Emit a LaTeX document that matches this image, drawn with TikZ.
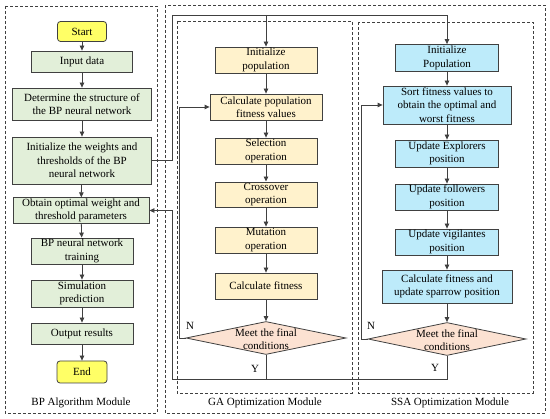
\documentclass[tikz,border=0pt]{standalone}
\usepackage{fontspec}
\setmainfont{Liberation Serif}
\usepackage{tikz}
\usetikzlibrary{positioning, calc, shapes.geometric, arrows.meta}
\definecolor{termYellow}{RGB}{255, 255, 102}
\definecolor{bpGreen}{RGB}{226, 239, 217}
\definecolor{gaOrange}{RGB}{255, 242, 204}
\definecolor{ssaBlue}{RGB}{189, 235, 250}
\definecolor{condPeach}{RGB}{252, 226, 210}
\definecolor{lineGray}{RGB}{64, 64, 64}

\begin{document}
\begin{tikzpicture}[
    x=1pt, y=-1pt,
    font=\fontsize{11}{13.5}\selectfont,
    base/.style={rectangle, draw=lineGray, thick, align=center, inner sep=1pt},
    termbox/.style={base, fill=termYellow, rounded corners=3pt,
                    minimum width=49pt, minimum height=20pt},
    bpbox/.style={base, fill=bpGreen},
    gabox/.style={base, fill=gaOrange, minimum width=102pt, minimum height=26pt},
    ssabox/.style={base, fill=ssaBlue, minimum width=103pt, minimum height=26pt},
    condbox/.style={diamond, draw=lineGray, thick, fill=condPeach, inner sep=0pt,
                    minimum width=160pt, minimum height=33pt},
    modbox/.style={draw=lineGray, dashed, dash pattern=on 3pt off 2pt},
    arrow/.style={-{Triangle[length=5pt, width=4.5pt]}, thick, lineGray},
    link/.style={thick, lineGray},
    yn/.style={font=\fontsize{11}{13}\selectfont},
  ]
    \useasboundingbox (0,0) rectangle (550,419);

    % Module frames
    \draw[modbox] (5,6) rectangle (157,413);
    \draw[modbox] (165,5) rectangle (545,413);
    \draw[modbox] (177,21) rectangle (352,393);
    \draw[modbox] (358,22) rectangle (533,393);
    \node (BPMOD)  at (81,403)  {BP Algorithm Module};
    \node (GAMOD)  at (265,403) {GA Optimization Module};
    \node (SSAMOD) at (450,403) {SSA Optimization Module};

    % Left: BP algorithm
    \node[termbox] (START) at (82,31.5) {Start};
    \node[bpbox, minimum width=101pt, minimum height=21pt] (INPUT) at (82,61.5) {Input data};
    \node[bpbox, minimum width=139pt, minimum height=32pt] (STRUCT) at (82,104)
      {Determine the structure of\\the BP neural network};
    \node[bpbox, minimum width=139pt, minimum height=47pt] (INITWT) at (82,160.5)
      {Initialize the weights and\\thresholds of the BP\\neural network};
    \node[bpbox, minimum width=136pt, minimum height=25pt] (OBTAIN) at (81,210.5)
      {Obtain optimal weight and\\threshold parameters};
    \node[bpbox, minimum width=102pt, minimum height=26pt] (TRAIN) at (82,251)
      {BP neural network\\training};
    \node[bpbox, minimum width=102pt, minimum height=27pt] (SIMU) at (82,293.5)
      {Simulation\\prediction};
    \node[bpbox, minimum width=102pt, minimum height=21pt] (OUTPUT) at (82,333.5) {Output results};
    \node[termbox, minimum width=50pt, minimum height=22pt] (END) at (82,372) {End};
    \foreach \a/\b in {START/INPUT, INPUT/STRUCT, STRUCT/INITWT, INITWT/OBTAIN,
                       OBTAIN/TRAIN, TRAIN/SIMU, SIMU/OUTPUT, OUTPUT/END}
      \draw[arrow] (\a) -- (\b);

    % Middle: GA optimization
    \node[gabox] (GAINIT) at (266,60) {Initialize\\population};
    \node[gabox, minimum width=112pt] (GAFIT) at (266,107)
      {Calculate population\\fitness values};
    \node[gabox] (GASEL) at (266,151) {Selection\\operation};
    \node[gabox, minimum height=25pt] (GACROSS) at (266,194.5) {Crossover\\operation};
    \node[gabox] (GAMUT) at (266,240) {Mutation\\operation};
    \node[gabox] (GACALC) at (266,286) {Calculate fitness};
    \node[condbox, label={[align=center, yshift=-1pt]center:Meet the final\\conditions}]
      (GACOND) at (266,338) {};
    \foreach \a/\b in {GAINIT/GAFIT, GAFIT/GASEL, GASEL/GACROSS, GACROSS/GAMUT,
                       GAMUT/GACALC, GACALC/GACOND}
      \draw[arrow] (\a) -- (\b);

    % Right: SSA optimization
    \node[ssabox, minimum height=27pt] (SSAINIT) at (447,58) {Initialize\\Population};
    \node[ssabox, minimum width=128pt, minimum height=38pt] (SSASORT) at (447,105)
      {Sort fitness values to\\obtain the optimal and\\worst fitness};
    \node[ssabox, minimum height=27pt] (SSAEXP) at (447,153.5) {Update Explorers\\position};
    \node[ssabox] (SSAFOL) at (447,197) {Update followers\\position};
    \node[ssabox] (SSAVIG) at (447,242) {Update vigilantes\\position};
    \node[ssabox, minimum width=130pt, minimum height=33pt] (SSACALC) at (447,286.5)
      {Calculate fitness and\\update sparrow position};
    \node[condbox, minimum width=158pt, label={[align=center, yshift=-1pt]center:Meet the final\\conditions}]
      (SSACOND) at (447,339) {};
    \foreach \a/\b in {SSAINIT/SSASORT, SSASORT/SSAEXP, SSAEXP/SSAFOL, SSAFOL/SSAVIG,
                       SSAVIG/SSACALC, SSACALC/SSACOND}
      \draw[arrow] (\a) -- (\b);

    % Links between modules
    \coordinate (TOPL) at (172,15);
    \coordinate (BOTL) at (172,379);
    \draw[arrow] (INITWT.east) -| (TOPL) -| (SSAINIT.north);
    \draw[arrow] (TOPL -| GAINIT.north) -- (GAINIT.north);
    \draw[arrow] (SSACOND.south) |- (BOTL) |- (OBTAIN.east);
    \draw[link] (GACOND.south) -- (GACOND.south |- BOTL);

    % N loops
    \draw[arrow] (GACOND.west) -- ++(-6,0) |- (GAFIT.west);
    \draw[arrow] (SSACOND.west) -- ++(-6,0) |- (SSASORT.west);
    \node[yn] (GAN)  at (190,326) {N};
    \node[yn] (GAY)  at (255,369) {Y};
    \node[yn] (SSAN) at (371,326) {N};
    \node[yn] (SSAY) at (435,368) {Y};
  \end{tikzpicture}
\end{document}
